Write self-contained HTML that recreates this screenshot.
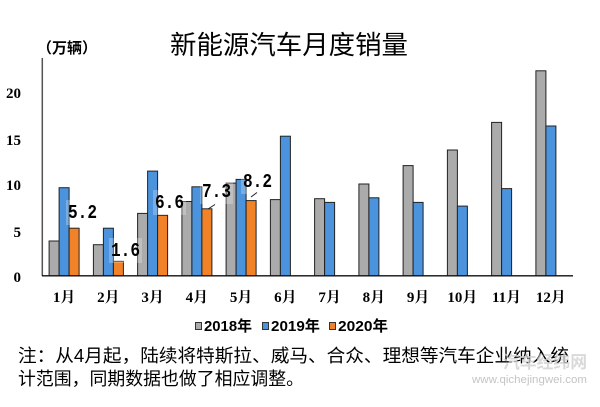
<!DOCTYPE html>
<html><head><meta charset="utf-8"><style>
html,body{margin:0;padding:0;background:#fff;}
svg{display:block;}
</style></head><body>
<svg width="600" height="407" viewBox="0 0 600 407" xmlns="http://www.w3.org/2000/svg">
<rect width="600" height="407" fill="#fff"/>
<!-- title -->
<text x="170" y="54" font-family="Liberation Sans, Noto Sans CJK SC, sans-serif" font-size="26" fill="#000" textLength="238" lengthAdjust="spacingAndGlyphs">新能源汽车月度销量</text>
<text x="37" y="53" font-family="Liberation Sans, Noto Sans CJK SC, sans-serif" font-size="15" font-weight="bold" fill="#000" textLength="60" lengthAdjust="spacingAndGlyphs">（万辆）</text>
<!-- y tick labels -->
<g font-family="Liberation Serif, Noto Serif CJK SC, serif" font-size="15" font-weight="bold" fill="#000" text-anchor="end">
<text x="21" y="98">20</text>
<text x="21" y="145">15</text>
<text x="21" y="190">10</text>
<text x="21" y="237">5</text>
<text x="21" y="282">0</text>
</g>
<!-- bars -->
<g stroke="#222" stroke-width="1">
<g fill="#ababab">
<rect x="49.1" y="241.0" width="10" height="35.0"/>
<rect x="93.4" y="244.7" width="10" height="31.3"/>
<rect x="137.6" y="213.4" width="10" height="62.6"/>
<rect x="181.9" y="201.5" width="10" height="74.5"/>
<rect x="226.1" y="183.1" width="10" height="92.9"/>
<rect x="270.4" y="199.6" width="10" height="76.4"/>
<rect x="314.6" y="198.7" width="10" height="77.3"/>
<rect x="358.9" y="184.0" width="10" height="92.0"/>
<rect x="403.1" y="165.6" width="10" height="110.4"/>
<rect x="447.4" y="150.0" width="10" height="126.0"/>
<rect x="491.6" y="122.4" width="10" height="153.6"/>
<rect x="535.9" y="70.8" width="10" height="205.2"/>
</g>
<g fill="#4b93dc">
<rect x="59.1" y="187.7" width="10" height="88.3"/>
<rect x="103.4" y="228.2" width="10" height="47.8"/>
<rect x="147.6" y="171.1" width="10" height="104.9"/>
<rect x="191.9" y="186.8" width="10" height="89.2"/>
<rect x="236.1" y="179.4" width="10" height="96.6"/>
<rect x="280.4" y="136.2" width="10" height="139.8"/>
<rect x="324.6" y="202.4" width="10" height="73.6"/>
<rect x="368.9" y="197.8" width="10" height="78.2"/>
<rect x="413.1" y="202.4" width="10" height="73.6"/>
<rect x="457.4" y="206.1" width="10" height="69.9"/>
<rect x="501.6" y="188.6" width="10" height="87.4"/>
<rect x="545.9" y="126.0" width="10" height="150.0"/>
</g>
<g fill="#f28228">
<rect x="69.1" y="228.2" width="10" height="47.8"/>
<rect x="113.4" y="261.3" width="10" height="14.7"/>
<rect x="157.6" y="215.3" width="10" height="60.7"/>
<rect x="201.9" y="208.8" width="10" height="67.2"/>
<rect x="246.1" y="200.6" width="10" height="75.4"/>
</g>
</g>
<!-- label background boxes -->
<g fill="#fff" opacity="0.25">
<rect x="66" y="200" width="33" height="25"/>
<rect x="109" y="238" width="33" height="25"/>
<rect x="153" y="190" width="33" height="25"/>
<rect x="200" y="179" width="33" height="25"/>
<rect x="241" y="169" width="33" height="25"/>
</g>
<!-- axes -->
<line x1="42.3" y1="58" x2="42.3" y2="276" stroke="#555" stroke-width="1.5"/>
<line x1="42" y1="275.8" x2="573" y2="275.8" stroke="#111" stroke-width="1.3"/>
<!-- leader lines -->
<line x1="208" y1="209" x2="215" y2="204.5" stroke="#222" stroke-width="1"/>
<line x1="251" y1="197" x2="257" y2="192.5" stroke="#222" stroke-width="1"/>
<!-- data labels -->
<g font-family="Liberation Mono, monospace" font-size="19" font-weight="bold" fill="#000">
<text x="68" y="218" textLength="29" lengthAdjust="spacingAndGlyphs">5.2</text>
<text x="111" y="256" textLength="29" lengthAdjust="spacingAndGlyphs">1.6</text>
<text x="155" y="208" textLength="29" lengthAdjust="spacingAndGlyphs">6.6</text>
<text x="202" y="197" textLength="29" lengthAdjust="spacingAndGlyphs">7.3</text>
<text x="243" y="187" textLength="29" lengthAdjust="spacingAndGlyphs">8.2</text>
</g>
<!-- month labels -->
<g font-family="Liberation Serif, Noto Serif CJK SC, serif" font-size="15" font-weight="bold" fill="#000" text-anchor="middle">
<text x="64.1" y="302">1月</text>
<text x="108.4" y="302">2月</text>
<text x="152.6" y="302">3月</text>
<text x="196.9" y="302">4月</text>
<text x="241.1" y="302">5月</text>
<text x="285.4" y="302">6月</text>
<text x="329.6" y="302">7月</text>
<text x="373.9" y="302">8月</text>
<text x="418.1" y="302">9月</text>
<text x="462.4" y="302">10月</text>
<text x="506.6" y="302">11月</text>
<text x="550.9" y="302">12月</text>
</g>
<!-- legend -->
<g stroke="#333" stroke-width="1">
<rect x="195.5" y="322.5" width="6" height="7" fill="#ababab"/>
<rect x="262.5" y="322.5" width="6" height="7" fill="#4b93dc"/>
<rect x="329.5" y="322.5" width="6" height="7" fill="#f28228"/>
</g>
<g font-family="Liberation Sans, Noto Sans CJK SC, sans-serif" font-size="15" font-weight="bold" fill="#000">
<text x="204" y="331" textLength="48" lengthAdjust="spacingAndGlyphs">2018年</text>
<text x="271" y="331" textLength="49" lengthAdjust="spacingAndGlyphs">2019年</text>
<text x="338" y="331" textLength="50" lengthAdjust="spacingAndGlyphs">2020年</text>
</g>
<!-- note -->
<g font-family="Liberation Sans, Noto Sans CJK SC, sans-serif" font-size="18" fill="#000">
<text x="18" y="362" textLength="551" lengthAdjust="spacingAndGlyphs">注：从4月起，陆续将特斯拉、威马、合众、理想等汽车企业纳入统</text>
<text x="18" y="385" textLength="286" lengthAdjust="spacingAndGlyphs">计范围，同期数据也做了相应调整。</text>
</g>
<!-- watermark -->
<text x="503" y="368" font-family="Liberation Sans, Noto Sans CJK SC, sans-serif" font-size="17" font-weight="bold" fill="#d0d0d0" opacity="0.8" textLength="84" lengthAdjust="spacingAndGlyphs">汽车经纬网</text>
<text x="472" y="383" font-family="Liberation Sans, sans-serif" font-size="11" fill="#c4c4c4" textLength="115" lengthAdjust="spacingAndGlyphs">www.qichejingwei.com</text>
</svg>
</body></html>
